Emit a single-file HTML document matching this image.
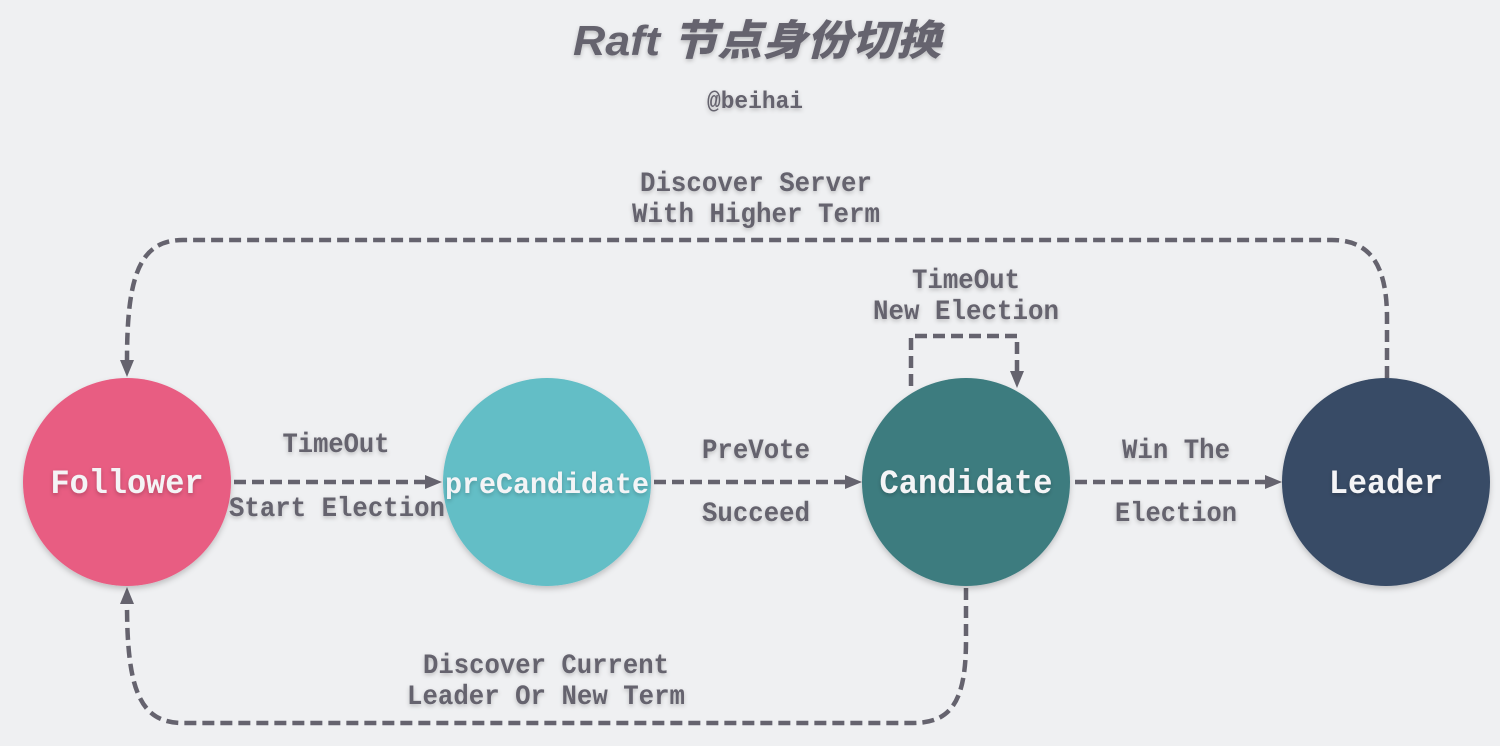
<!DOCTYPE html>
<html><head><meta charset="utf-8">
<style>
html,body{margin:0;padding:0;background:#eff0f2;}
body{width:1500px;height:746px;overflow:hidden;}
svg{display:block;}
.t{font-family:"Liberation Mono",monospace;font-weight:bold;fill:#65636e;font-size:28px;text-anchor:middle;}
.n{font-family:"Liberation Mono",monospace;font-weight:bold;fill:#f4f4f6;font-size:34px;text-anchor:middle;}
.ln{fill:none;stroke:#65636e;stroke-width:4.5;stroke-dasharray:12 6;}
.ah{fill:#65636e;}
</style></head>
<body>
<svg width="1500" height="746" viewBox="0 0 1500 746" xmlns="http://www.w3.org/2000/svg">
<defs>
<filter id="ts" x="-20%" y="-40%" width="140%" height="180%">
<feDropShadow dx="0" dy="2" stdDeviation="2" flood-color="#000" flood-opacity="0.22"/>
</filter>
<filter id="cs" x="-20%" y="-20%" width="140%" height="140%">
<feDropShadow dx="0" dy="3" stdDeviation="3" flood-color="#000" flood-opacity="0.2"/>
</filter>
</defs>
<rect width="1500" height="746" fill="#eff0f2"/>

<!-- title -->
<text x="757" y="55" filter="url(#ts)" style="font-family:'Liberation Sans','Noto Sans CJK SC',sans-serif;font-weight:900;font-style:italic;font-size:42px;fill:#65636e;text-anchor:middle;" textLength="368" lengthAdjust="spacingAndGlyphs">Raft  节点身份切换</text>
<text x="755" y="108" class="t" filter="url(#ts)" style="font-size:24px" textLength="96" lengthAdjust="spacingAndGlyphs">@beihai</text>

<!-- top loop: Leader -> Follower -->
<path class="ln" d="M1387 378 L1387 318 C1387 268 1372 240 1332 240 L183 240 C140 240 127 275 127 360"/>
<polygon class="ah" points="127,377 120,360 134,360"/>

<!-- bottom loop: Candidate -> Follower -->
<path class="ln" d="M966 588 L966 640 C966 700 952 723 913 723 L183 723 C140 723 127 690 127 604"/>
<polygon class="ah" points="127,587 120,604 134,604"/>

<!-- candidate self loop -->
<path class="ln" d="M911 386 L911 336 L1017 336 L1017 371"/>
<polygon class="ah" points="1017,388 1010,371 1024,371"/>

<!-- horizontal arrows -->
<path class="ln" d="M234 482 L426 482"/>
<polygon class="ah" points="442,482 425,475 425,489"/>
<path class="ln" d="M654 482 L846 482"/>
<polygon class="ah" points="862,482 845,475 845,489"/>
<path class="ln" d="M1075 482 L1266 482"/>
<polygon class="ah" points="1282,482 1265,475 1265,489"/>

<!-- circles -->
<circle cx="127" cy="482" r="104" fill="#e85d82" filter="url(#cs)"/>
<circle cx="547" cy="482" r="104" fill="#64bec6" filter="url(#cs)"/>
<circle cx="966" cy="482" r="104" fill="#3e7b7f" filter="url(#cs)"/>
<circle cx="1386" cy="482" r="104" fill="#384b66" filter="url(#cs)"/>

<!-- node labels -->
<text class="n" x="127" y="493" filter="url(#ts)" textLength="153" lengthAdjust="spacingAndGlyphs">Follower</text>
<text class="n" x="547" y="493" filter="url(#ts)" style="font-size:30px" textLength="204" lengthAdjust="spacingAndGlyphs">preCandidate</text>
<text class="n" x="966" y="493" filter="url(#ts)" textLength="173" lengthAdjust="spacingAndGlyphs">Candidate</text>
<text class="n" x="1386" y="493" filter="url(#ts)" textLength="114" lengthAdjust="spacingAndGlyphs">Leader</text>

<!-- edge labels -->
<text class="t" x="756" y="191" filter="url(#ts)" textLength="232" lengthAdjust="spacingAndGlyphs">Discover Server</text>
<text class="t" x="756" y="222" filter="url(#ts)" textLength="248" lengthAdjust="spacingAndGlyphs">With Higher Term</text>

<text class="t" x="966" y="288" filter="url(#ts)" textLength="108" lengthAdjust="spacingAndGlyphs">TimeOut</text>
<text class="t" x="966" y="319" filter="url(#ts)" textLength="186" lengthAdjust="spacingAndGlyphs">New Election</text>

<text class="t" x="336" y="452" filter="url(#ts)" textLength="107" lengthAdjust="spacingAndGlyphs">TimeOut</text>
<text class="t" x="337" y="516" filter="url(#ts)" textLength="216" lengthAdjust="spacingAndGlyphs">Start Election</text>

<text class="t" x="756" y="458" filter="url(#ts)" textLength="108" lengthAdjust="spacingAndGlyphs">PreVote</text>
<text class="t" x="756" y="521" filter="url(#ts)" textLength="108" lengthAdjust="spacingAndGlyphs">Succeed</text>

<text class="t" x="1176" y="458" filter="url(#ts)" textLength="108" lengthAdjust="spacingAndGlyphs">Win The</text>
<text class="t" x="1176" y="521" filter="url(#ts)" textLength="122" lengthAdjust="spacingAndGlyphs">Election</text>

<text class="t" x="546" y="673" filter="url(#ts)" textLength="246" lengthAdjust="spacingAndGlyphs">Discover Current</text>
<text class="t" x="546" y="704" filter="url(#ts)" textLength="278" lengthAdjust="spacingAndGlyphs">Leader Or New Term</text>
</svg>
</body></html>
